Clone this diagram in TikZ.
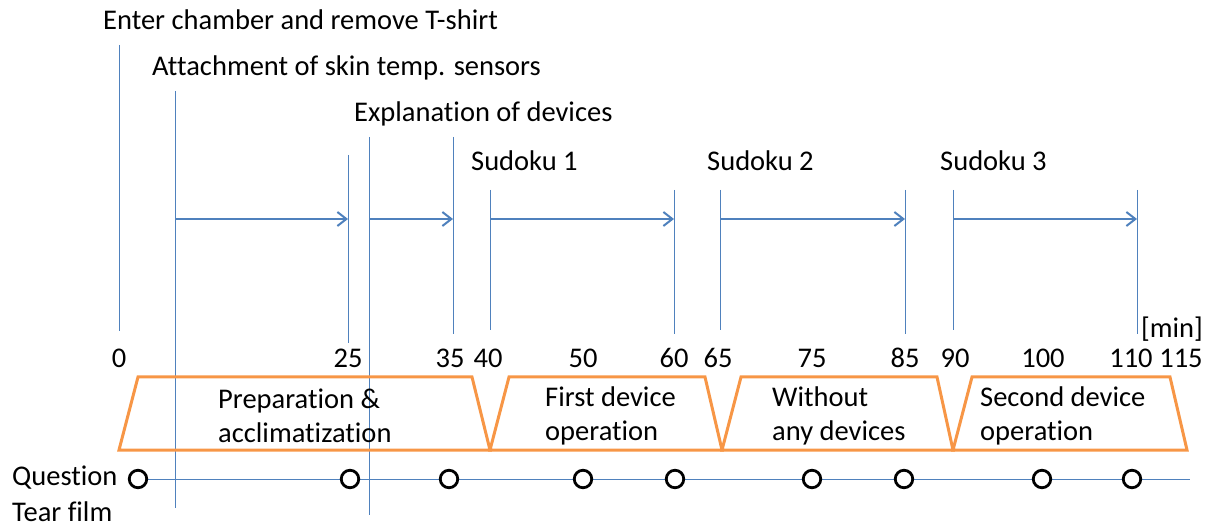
\documentclass[tikz,border=0pt]{standalone}
\usepackage{fontspec}
\setmainfont{Carlito}[Ligatures=NoCommon]
\usetikzlibrary{calc}
\usetikzlibrary{positioning}
\usetikzlibrary{arrows.meta}
\definecolor{lineblue}{HTML}{4F81BD}
\definecolor{phaseorange}{HTML}{F79646}
\tikzset{x=1pt, y=-1pt,
  every node/.style={font=\fontsize{28.5}{34}\selectfont, inner sep=0pt},
  tick/.style={draw=lineblue, line width=1pt},
  span/.style={draw=lineblue, line width=2pt,
    -{Straight Barb[length=9pt, width=14pt, line width=2pt]}},
  phase/.style={draw=phaseorange, line width=3pt, line join=miter},
  phasetext/.style={anchor=west, align=left},
  qcircle/.style={circle, draw=black, line width=2.8pt, fill=white,
    minimum size=17.5pt}}

\begin{document}
\begin{tikzpicture}
  \useasboundingbox (0,0) rectangle (1211,529);

  % time lines: name/x/top/bottom
  \foreach \n/\x/\t/\b in {0/119/45/331, att/175/91/508, 25/348/155/343,
      exp/369/137/515, 35/453/137/334, 40/490/190/330, 60/674/190/334,
      65/720/190/330, 85/905/190/334, 90/953/190/330, 110/1137/190/334} {
    \coordinate (l\n) at (\x,\t);
    \coordinate (e\n) at (\x,\b);
    \draw[tick] (l\n) -- (e\n);
  }

  % events
  \node[anchor=west] (enter)  at (103,20)  {Enter chamber and remove T-shirt};
  \node[anchor=west] (attach) at (152,68)  {Attachment of skin temp. sensors};
  \node[anchor=west] (expl)   at (354,114) {Explanation of devices};
  \node[anchor=west] (sud1)   at (471,161) {Sudoku 1};
  \node[anchor=west] (sud2)   at (707,161) {Sudoku 2};
  \node[anchor=west] (sud3)   at (940,161) {Sudoku 3};

  \coordinate (arr) at (0,219);
  \draw[span] (latt |- arr) -- (l25 |- arr);
  \draw[span] (lexp |- arr) -- (l35 |- arr);
  \draw[span] (l40 |- arr) -- (l60 |- arr);
  \draw[span] (l65 |- arr) -- (l85 |- arr);
  \draw[span] (l90 |- arr) -- (l110 |- arr);

  % minutes
  \foreach \m/\x in {0/119, 25/348, 35/450, 40/488, 50/583, 60/674, 65/718,
      75/812, 85/905, 90/955, 100/1043, 110/1131, 115/1181}
    \node (n\m) at (\x,358) {\m};
  \node (unit) at (1172,329) {[min]};

  % phases
  \draw[phase] (119,450) -- (138,377) -- (472,377) -- (490,450) -- cycle;
  \draw[phase] (490,450) -- (509,377) -- (705,377) -- (722,450) -- cycle;
  \draw[phase] (722,450) -- (741,377) -- (937,377) -- (953,450) -- cycle;
  \draw[phase] (953,450) -- (972,377) -- (1170,377) -- (1187,450) -- cycle;
  \node[phasetext] (prep)  at (218,416) {Preparation \&\\acclimatization};
  \node[phasetext] (first) at (545,416) {First device\\operation};
  \node[phasetext] (none)  at (772,416) {Without\\any devices};
  \node[phasetext] (second) at (980,416) {Second device\\operation};

  % questionnaire
  \node[anchor=west] (quest) at (12,478) {Question};
  \node[anchor=west] (tear)  at (12,512) {Tear film};
  \coordinate (qstart) at (138,479);
  \coordinate (qend) at (1190,479);
  \draw[tick] (qstart) -- (qend);
  \foreach \i/\x in {1/138, 2/350, 3/449, 4/583, 5/675, 6/812, 7/904,
      8/1042, 9/1132}
    \node[qcircle] (q\i) at (\x,479) {};

\end{tikzpicture}
\end{document}
